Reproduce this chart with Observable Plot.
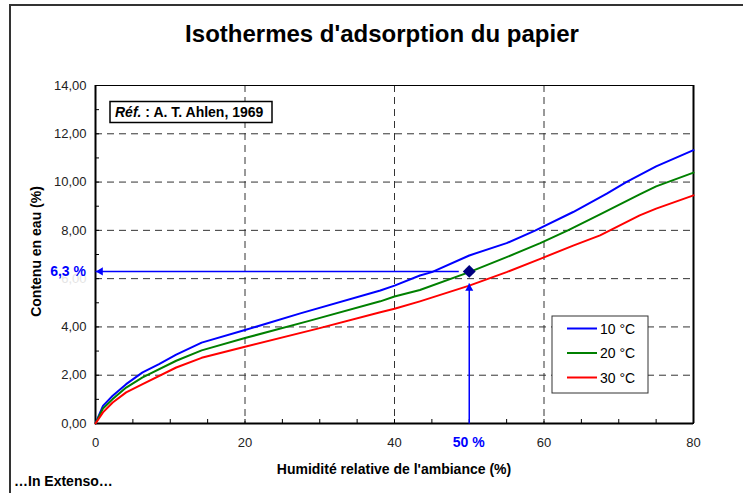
<!DOCTYPE html>
<html><head><meta charset="utf-8">
<script src="https://cdn.jsdelivr.net/npm/d3@7"></script>
<script src="https://cdn.jsdelivr.net/npm/@observablehq/plot@0.6"></script>
<style>
body{margin:0;background:#fff;}
#chart{width:743px;height:493px;}
</style></head><body><div id="chart"></div>
<script>
const title = "Isothermes d'adsorption du papier";
const xLabel = "Humidité relative de l'ambiance (%)";
const yLabel = "Contenu en eau (%)";
const caption = "…In Extenso…";
const refPrefix = "Réf.";
const refText = " : A. T. Ahlen, 1969";
const series = ["10 °C", "20 °C", "30 °C"];
const colors = ["#0000ff", "#008000", "#ff0000"];

const x10 = [0, 1, 2.3, 4.1, 6.3, 8.5, 10.8, 14.2, 20, 27.4, 38.1, 40, 43.4, 45, 50, 55, 58.8, 63.9, 68.4, 71, 75, 80];
const y10 = [0, 0.73, 1.15, 1.63, 2.12, 2.46, 2.85, 3.35, 3.87, 4.56, 5.51, 5.71, 6.13, 6.27, 6.96, 7.47, 7.99, 8.76, 9.52, 10.0, 10.65, 11.32];
const x20 = [0, 1, 2.3, 4.1, 6.3, 10.8, 14.2, 20, 28.7, 38.1, 40, 43.4, 50, 55, 59.5, 63.2, 67.5, 72.8, 75, 80];
const y20 = [0, 0.62, 1.01, 1.49, 1.91, 2.6, 3.03, 3.54, 4.26, 5.06, 5.26, 5.53, 6.27, 6.89, 7.47, 8.0, 8.66, 9.49, 9.82, 10.39];
const x30 = [0, 1, 2.3, 4.1, 6.3, 10.8, 14.2, 20, 29.6, 38.1, 40, 43.4, 50, 55, 59.5, 63.9, 67.5, 72.8, 75, 80];
const y30 = [0, 0.46, 0.87, 1.29, 1.63, 2.32, 2.72, 3.18, 3.92, 4.61, 4.75, 5.06, 5.71, 6.27, 6.82, 7.37, 7.79, 8.62, 8.9, 9.45];

const xTicks = [0, 20, 40, 60, 80];
const xGrid = [20, 40, 60];
const xMinorTicks = [5, 10, 15, 20, 25, 30, 35, 40, 45, 50, 55, 60, 65, 70, 75];
const yTicks = [0, 2, 4, 8, 10, 12, 14];
const yFadedTicks = [6];
const yGrid = [2, 4, 6, 8, 10, 12];
const yMinorTicks = [1, 2, 3, 4, 5, 6, 7, 8, 9, 10, 11, 12, 13];

const refX = 50, refY = 6.3;
const hArrowStart = 48.6;
const vArrowEnd = 5.8;
const refLabelY = "6,3 %";
const refLabelX = "50 %";

const xs = [x10, x20, x30], ys = [y10, y20, y30];
const curves = series.flatMap((s, k) => xs[k].map((x, i) => ({series: s, x, y: ys[k][i]})));
const fmt = d => d.toFixed(2).replace(".", ",");
const font = "'Liberation Sans', Arial, Helvetica, sans-serif";
const blue = "#0000ff";

const plot = Plot.plot({
  width: 743, height: 493,
  marginTop: 85, marginBottom: 70, marginLeft: 95, marginRight: 50,
  style: {fontFamily: font, fontSize: "13px", color: "#000", background: "#fff", overflow: "visible"},
  x: {domain: [0, 80]},
  y: {domain: [0, 14]},
  color: {domain: series, range: colors},
  marks: [
    Plot.ruleX(xGrid, {x: d => d, stroke: "#333", strokeDasharray: "7,5", strokeWidth: 1}),
    Plot.ruleY(yGrid, {y: d => d, stroke: "#333", strokeDasharray: "7,5", strokeWidth: 1}),
    Plot.ruleX(xMinorTicks, {x: d => d, y1: 0, y2: 0, insetTop: -4, stroke: "#000"}),
    Plot.ruleY(yMinorTicks, {y: d => d, x1: 0, x2: 0, insetRight: -4, stroke: "#000"}),
    Plot.frame({stroke: "#000", strokeWidth: 1}),
    Plot.ruleY([0], {stroke: "#000", strokeWidth: 2}),
    Plot.ruleX([0, 80], {stroke: "#000", strokeWidth: 2}),
    Plot.axisX(xTicks, {tickSize: 0, tickPadding: 14, fontSize: 13, fill: "#222", label: null}),
    Plot.axisY(yTicks, {tickSize: 0, tickPadding: 9, fontSize: 13, fill: "#222", tickFormat: fmt, label: null}),
    Plot.axisY(yFadedTicks, {tickSize: 0, tickPadding: 9, fontSize: 13, fill: "#e4e4e4", tickFormat: fmt, label: null}),
    Plot.line(curves, {x: "x", y: "y", stroke: "series", z: "series", strokeWidth: 2}),
    Plot.link([{x1: hArrowStart, x2: 0, y1: refY, y2: refY}], {x1: "x1", x2: "x2", y1: "y1", y2: "y2", stroke: blue, strokeWidth: 1.5}),
    Plot.link([{x1: refX, x2: refX, y1: 0, y2: vArrowEnd}], {x1: "x1", x2: "x2", y1: "y1", y2: "y2", stroke: blue, strokeWidth: 1.5}),
    Plot.dot([{x: 0, y: refY}], {x: "x", y: "y", symbol: "triangle", rotate: -90, r: 3, dx: 5, fill: blue, stroke: "none"}),
    Plot.dot([{x: refX, y: vArrowEnd}], {x: "x", y: "y", symbol: "triangle", r: 3, dy: 5, fill: blue, stroke: "none"}),
    Plot.dot([{x: refX, y: refY}], {x: "x", y: "y", symbol: "diamond2", r: 5.8, fill: "#000080", stroke: "none"})
  ]
});

const svg = d3.select(plot);
const sx = plot.scale("x"), sy = plot.scale("y");
const add = (txt, attrs) => {
  const t = svg.append("text").text(txt).attr("font-family", font).attr("text-anchor", "start");
  for (const k in attrs) t.attr(k, attrs[k]);
  return t;
};
// outer frame
svg.append("path").attr("d", "M10,493V5H743").attr("fill", "none").attr("stroke", "#333").attr("stroke-width", 2);
// title
add(title, {x: 382, y: 42, "text-anchor": "middle", "font-size": 24, "font-weight": "bold"});
// axis titles
add(xLabel, {x: 394, y: 473.5, "text-anchor": "middle", "font-size": 14, "font-weight": "bold"});
add(yLabel, {transform: "translate(41,251.5) rotate(-90)", "text-anchor": "middle", "font-size": 14, "font-weight": "bold"});
add(caption, {x: 14, y: 486, "font-size": 14, "font-weight": "bold"});
// reference labels
add(refLabelY, {x: 86, y: sy.apply(refY), dy: "0.36em", "text-anchor": "end", "font-size": 14, "font-weight": "bold", fill: blue});
add(refLabelX, {x: sx.apply(refX), y: 442, dy: "0.36em", "text-anchor": "middle", "font-size": 14, "font-weight": "bold", fill: blue});
// ref box
svg.append("rect").attr("x", 110).attr("y", 101.5).attr("width", 162).attr("height", 21).attr("fill", "#fff").attr("stroke", "#000").attr("stroke-width", 1.5);
const rt = svg.append("text").attr("x", 115).attr("y", 112).attr("dy", "0.36em").attr("text-anchor", "start").attr("font-family", font).attr("font-size", 14).attr("font-weight", "bold");
rt.append("tspan").attr("font-style", "italic").text(refPrefix);
rt.append("tspan").text(refText);
// legend
const lg = svg.append("g");
lg.append("rect").attr("x", 552).attr("y", 316).attr("width", 96).attr("height", 77).attr("fill", "#fff").attr("stroke", "#333").attr("stroke-width", 1);
series.forEach((s, i) => {
  const yy = 328.5 + i * 24.5;
  lg.append("line").attr("x1", 567).attr("x2", 597).attr("y1", yy).attr("y2", yy).attr("stroke", colors[i]).attr("stroke-width", 2);
  lg.append("text").attr("x", 600).attr("y", yy).attr("dy", "0.36em").attr("text-anchor", "start").attr("font-family", font).attr("font-size", 14).text(s);
});

document.getElementById("chart").appendChild(plot);
</script></body></html>
